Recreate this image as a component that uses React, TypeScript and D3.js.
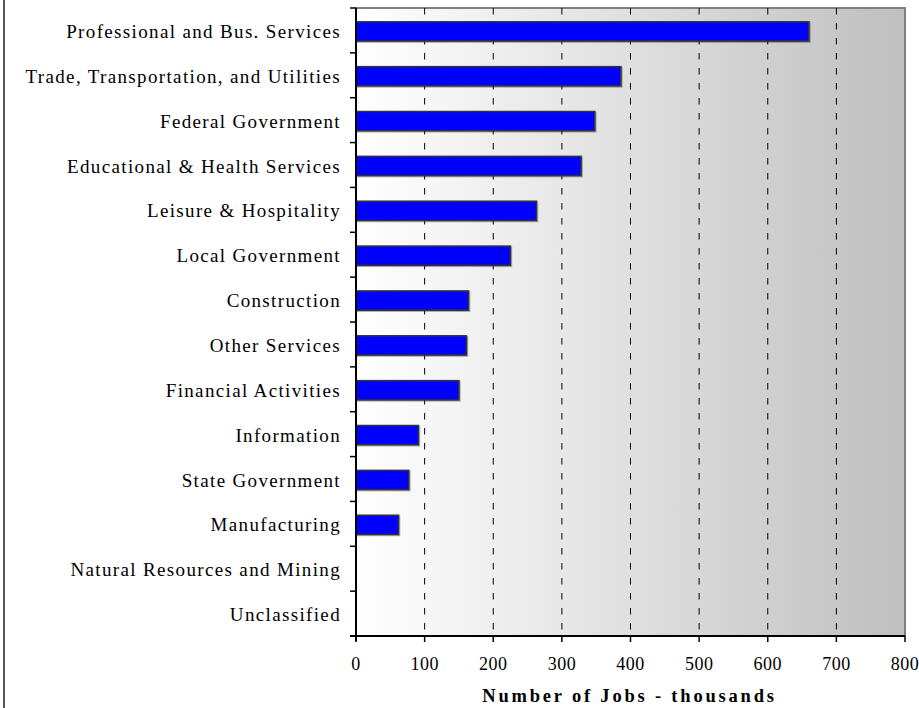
import React from 'react';
import * as d3 from 'd3';

const categories = [
  'Professional and Bus. Services',
  'Trade, Transportation, and Utilities',
  'Federal Government',
  'Educational & Health Services',
  'Leisure & Hospitality',
  'Local Government',
  'Construction',
  'Other Services',
  'Financial Activities',
  'Information',
  'State Government',
  'Manufacturing',
  'Natural Resources and Mining',
  'Unclassified'
];

const jobs = [660, 386, 348, 328, 263, 225, 164, 161, 150, 91, 77, 62, 0, 0];

const xTicks = [0, 100, 200, 300, 400, 500, 600, 700, 800];

const App = () => {
  const width = 919;
  const height = 708;

  const padding = {
    top: 8,
    right: 14,
    bottom: 72,
    left: 356
  };

  const innerSize = {
    width: width - padding.left - padding.right,
    height: height - padding.top - padding.bottom
  };

  const xScale = d3
    .scaleLinear()
    .domain([0, 800])
    .range([0, innerSize.width]);

  const yScale = d3
    .scaleBand()
    .domain(categories)
    .range([0, innerSize.height])
    .paddingInner(0.57)
    .paddingOuter(0.285);

  const step = yScale.step();
  const font = '"Liberation Serif", "Times New Roman", serif';

  return (
    <svg
      width={width}
      height={height}
      style={{ display: 'block', position: 'absolute', left: 0, top: 0 }}
    >
      <defs>
        <linearGradient id="bg" x1="0" x2="1" y1="0" y2="0">
          <stop offset="0%" stopColor="#ffffff" />
          <stop offset="100%" stopColor="#bfbfbf" />
        </linearGradient>
      </defs>
      <rect width={width} height={height} fill="#fff" />
      <line x1={4} x2={4} y1={0} y2={height} stroke="#555" strokeWidth={2} />

      <g transform={`translate(${padding.left}, ${padding.top})`}>
        <rect
          width={innerSize.width}
          height={innerSize.height}
          fill="url(#bg)"
          stroke="#808080"
          strokeWidth={2}
        />

        {xTicks.slice(1, -1).map(t => (
          <line
            key={t}
            x1={xScale(t)}
            x2={xScale(t)}
            y1={0}
            y2={innerSize.height}
            stroke="#000"
            strokeWidth={1}
            strokeDasharray="6.5,8.5"
          />
        ))}

        {categories.map((c, i) => (
          <rect
            key={c}
            x={xScale(0)}
            y={yScale(c)! + 1}
            width={xScale(jobs[i])}
            height={yScale.bandwidth()}
            fill="#0000ff"
            stroke="#333"
            strokeWidth={1.5}
            style={{ filter: 'drop-shadow(1px 1px 0.5px rgba(0,0,0,0.3))' }}
            display={jobs[i] > 0 ? undefined : 'none'}
          />
        ))}

        {/* axes */}
        <line x1={0} x2={0} y1={0} y2={innerSize.height + 5} stroke="#000" strokeWidth={2} />
        <line
          x1={-6}
          x2={innerSize.width}
          y1={innerSize.height}
          y2={innerSize.height}
          stroke="#000"
          strokeWidth={2}
        />
        {d3.range(categories.length + 1).map(i => (
          <line
            key={i}
            x1={-6}
            x2={0}
            y1={i * step}
            y2={i * step}
            stroke="#000"
            strokeWidth={1.5}
          />
        ))}
        {xTicks.map(t => (
          <line
            key={t}
            x1={xScale(t)}
            x2={xScale(t)}
            y1={innerSize.height}
            y2={innerSize.height + 6}
            stroke="#000"
            strokeWidth={1.5}
          />
        ))}

        {categories.map(c => (
          <text
            key={c}
            x={-15}
            y={yScale(c)! + yScale.bandwidth() / 2 + 1}
            textAnchor="end"
            dominantBaseline="central"
            fontFamily={font}
            fontSize={19}
            letterSpacing={1.35}
            fill="#000"
          >
            {c}
          </text>
        ))}

        {xTicks.map(t => (
          <text
            key={t}
            x={xScale(t)}
            y={innerSize.height + 34}
            textAnchor="middle"
            fontFamily={font}
            fontSize={18}
            letterSpacing={0.5}
            fill="#000"
          >
            {t}
          </text>
        ))}

        <text
          x={innerSize.width / 2 - 1}
          y={innerSize.height + 66}
          textAnchor="middle"
          fontFamily={font}
          fontSize={18.5}
          fontWeight="bold"
          letterSpacing={2.8}
          fill="#000"
        >
          Number of Jobs - thousands
        </text>
      </g>
    </svg>
  );
};

export default App;
